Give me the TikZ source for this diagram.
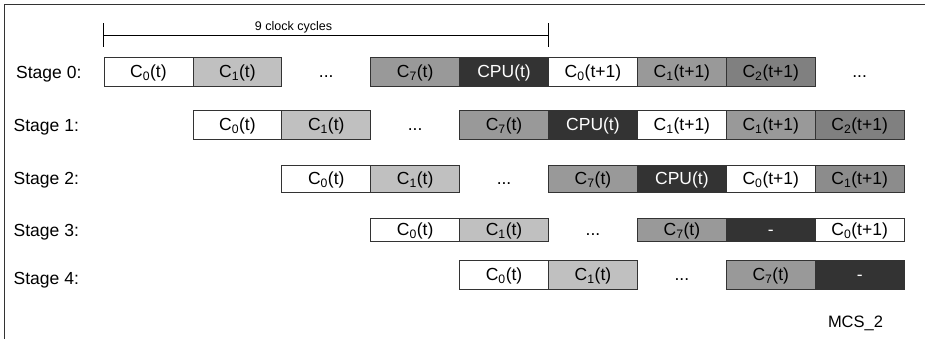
\documentclass[tikz,border=0pt]{standalone}
\usepackage{fontspec}
\setmainfont{Liberation Sans}
\definecolor{lightc}{HTML}{C0C0C0}
\definecolor{midc}{HTML}{999999}
\definecolor{midtwo}{HTML}{8C8C8C}
\definecolor{darkc}{HTML}{808080}
\definecolor{cpuc}{HTML}{333333}
\definecolor{linec}{HTML}{333333}
\newcommand\Cs[2]{C\textsubscript{#1}(#2)}
% name, slot, center y, height, fill, text, text colour
\newcommand\cellat[7]{\node[cellbox, fill=#5, text=#7, minimum height=#4pt] (#1) at ({104+88.9*(#2+0.5)}, #3) {#6};}
\newcommand\dotsat[3]{\node[celltext] (#1) at ({104+88.9*(#2+0.5)}, #3) {...};}
\begin{document}
\begin{tikzpicture}[x=1pt,y=-1pt,
  celltext/.style={inner sep=0pt, font=\fontsize{17.5}{20}\selectfont, text height=12.5pt, text depth=0pt},
  cellbox/.style={celltext, draw=linec, line width=0.8pt, minimum width=88.9pt},
  stagelabel/.style={inner sep=0pt, anchor=west, font=\fontsize{17.5}{20}\selectfont, text height=12.5pt, text depth=0pt}]
\useasboundingbox (0,0) rectangle (925,339);
\draw[line width=1pt, linec] (4,345) -- (4,5) -- (930,5);

% bracket
\coordinate (bl) at (103,35);
\coordinate (br) at (548,35);
\draw[line width=0.8pt] (bl) -- (br);
\draw[line width=0.8pt] ([yshift=-12pt]bl) -- ([yshift=12pt]bl);
\draw[line width=0.8pt] ([yshift=-12pt]br) -- ([yshift=12pt]br);
\node[inner sep=0pt, anchor=base, font=\fontsize{12.5}{14}\selectfont] (cyc) at (293.5,31) {9 clock cycles};

% stage labels
\node[stagelabel] (l0) at (16,72) {Stage 0:};
\node[stagelabel] (l1) at (13.5,125) {Stage 1:};
\node[stagelabel] (l2) at (13.5,178) {Stage 2:};
\node[stagelabel] (l3) at (13.5,230) {Stage 3:};
\node[stagelabel] (l4) at (13.5,278) {Stage 4:};

% stage 0
\cellat{a0}{0}{71.5}{29}{white}{\Cs{0}{t}}{black}
\cellat{a1}{1}{71.5}{29}{lightc}{\Cs{1}{t}}{black}
\dotsat{a2}{2}{71.5}
\cellat{a3}{3}{71.5}{29}{midc}{\Cs{7}{t}}{black}
\cellat{a4}{4}{71.5}{29}{cpuc}{CPU(t)}{white}
\cellat{a5}{5}{71.5}{29}{white}{\Cs{0}{t+1}}{black}
\cellat{a6}{6}{71.5}{29}{midc}{\Cs{1}{t+1}}{black}
\cellat{a7}{7}{71.5}{29}{darkc}{\Cs{2}{t+1}}{black}
\dotsat{a8}{8}{71.5}

% stage 1
\cellat{b1}{1}{124.5}{29}{white}{\Cs{0}{t}}{black}
\cellat{b2}{2}{124.5}{29}{lightc}{\Cs{1}{t}}{black}
\dotsat{b3}{3}{124.5}
\cellat{b4}{4}{124.5}{29}{midc}{\Cs{7}{t}}{black}
\cellat{b5}{5}{124.5}{29}{cpuc}{CPU(t)}{white}
\cellat{b6}{6}{124.5}{29}{white}{\Cs{1}{t+1}}{black}
\cellat{b7}{7}{124.5}{29}{midc}{\Cs{1}{t+1}}{black}
\cellat{b8}{8}{124.5}{29}{darkc}{\Cs{2}{t+1}}{black}

% stage 2
\cellat{c2}{2}{178.5}{27}{white}{\Cs{0}{t}}{black}
\cellat{c3}{3}{178.5}{27}{lightc}{\Cs{1}{t}}{black}
\dotsat{c4}{4}{178.5}
\cellat{c5}{5}{178.5}{27}{midc}{\Cs{7}{t}}{black}
\cellat{c6}{6}{178.5}{27}{cpuc}{CPU(t)}{white}
\cellat{c7}{7}{178.5}{27}{white}{\Cs{0}{t+1}}{black}
\cellat{c8}{8}{178.5}{27}{midtwo}{\Cs{1}{t+1}}{black}

% stage 3
\cellat{d3}{3}{229.5}{23}{white}{\Cs{0}{t}}{black}
\cellat{d4}{4}{229.5}{23}{lightc}{\Cs{1}{t}}{black}
\dotsat{d5}{5}{229.5}
\cellat{d6}{6}{229.5}{23}{midc}{\Cs{7}{t}}{black}
\cellat{d7}{7}{229.5}{23}{cpuc}{-}{white}
\cellat{d8}{8}{229.5}{23}{white}{\Cs{0}{t+1}}{black}

% stage 4
\cellat{e4}{4}{274.5}{29}{white}{\Cs{0}{t}}{black}
\cellat{e5}{5}{274.5}{29}{lightc}{\Cs{1}{t}}{black}
\dotsat{e6}{6}{274.5}
\cellat{e7}{7}{274.5}{29}{midc}{\Cs{7}{t}}{black}
\cellat{e8}{8}{274.5}{29}{cpuc}{-}{white}

\node[inner sep=0pt, font=\fontsize{16.5}{18}\selectfont, text height=12pt, text depth=0pt] (mcs) at (855.5,321.5) {MCS\_2};
\end{tikzpicture}
\end{document}
